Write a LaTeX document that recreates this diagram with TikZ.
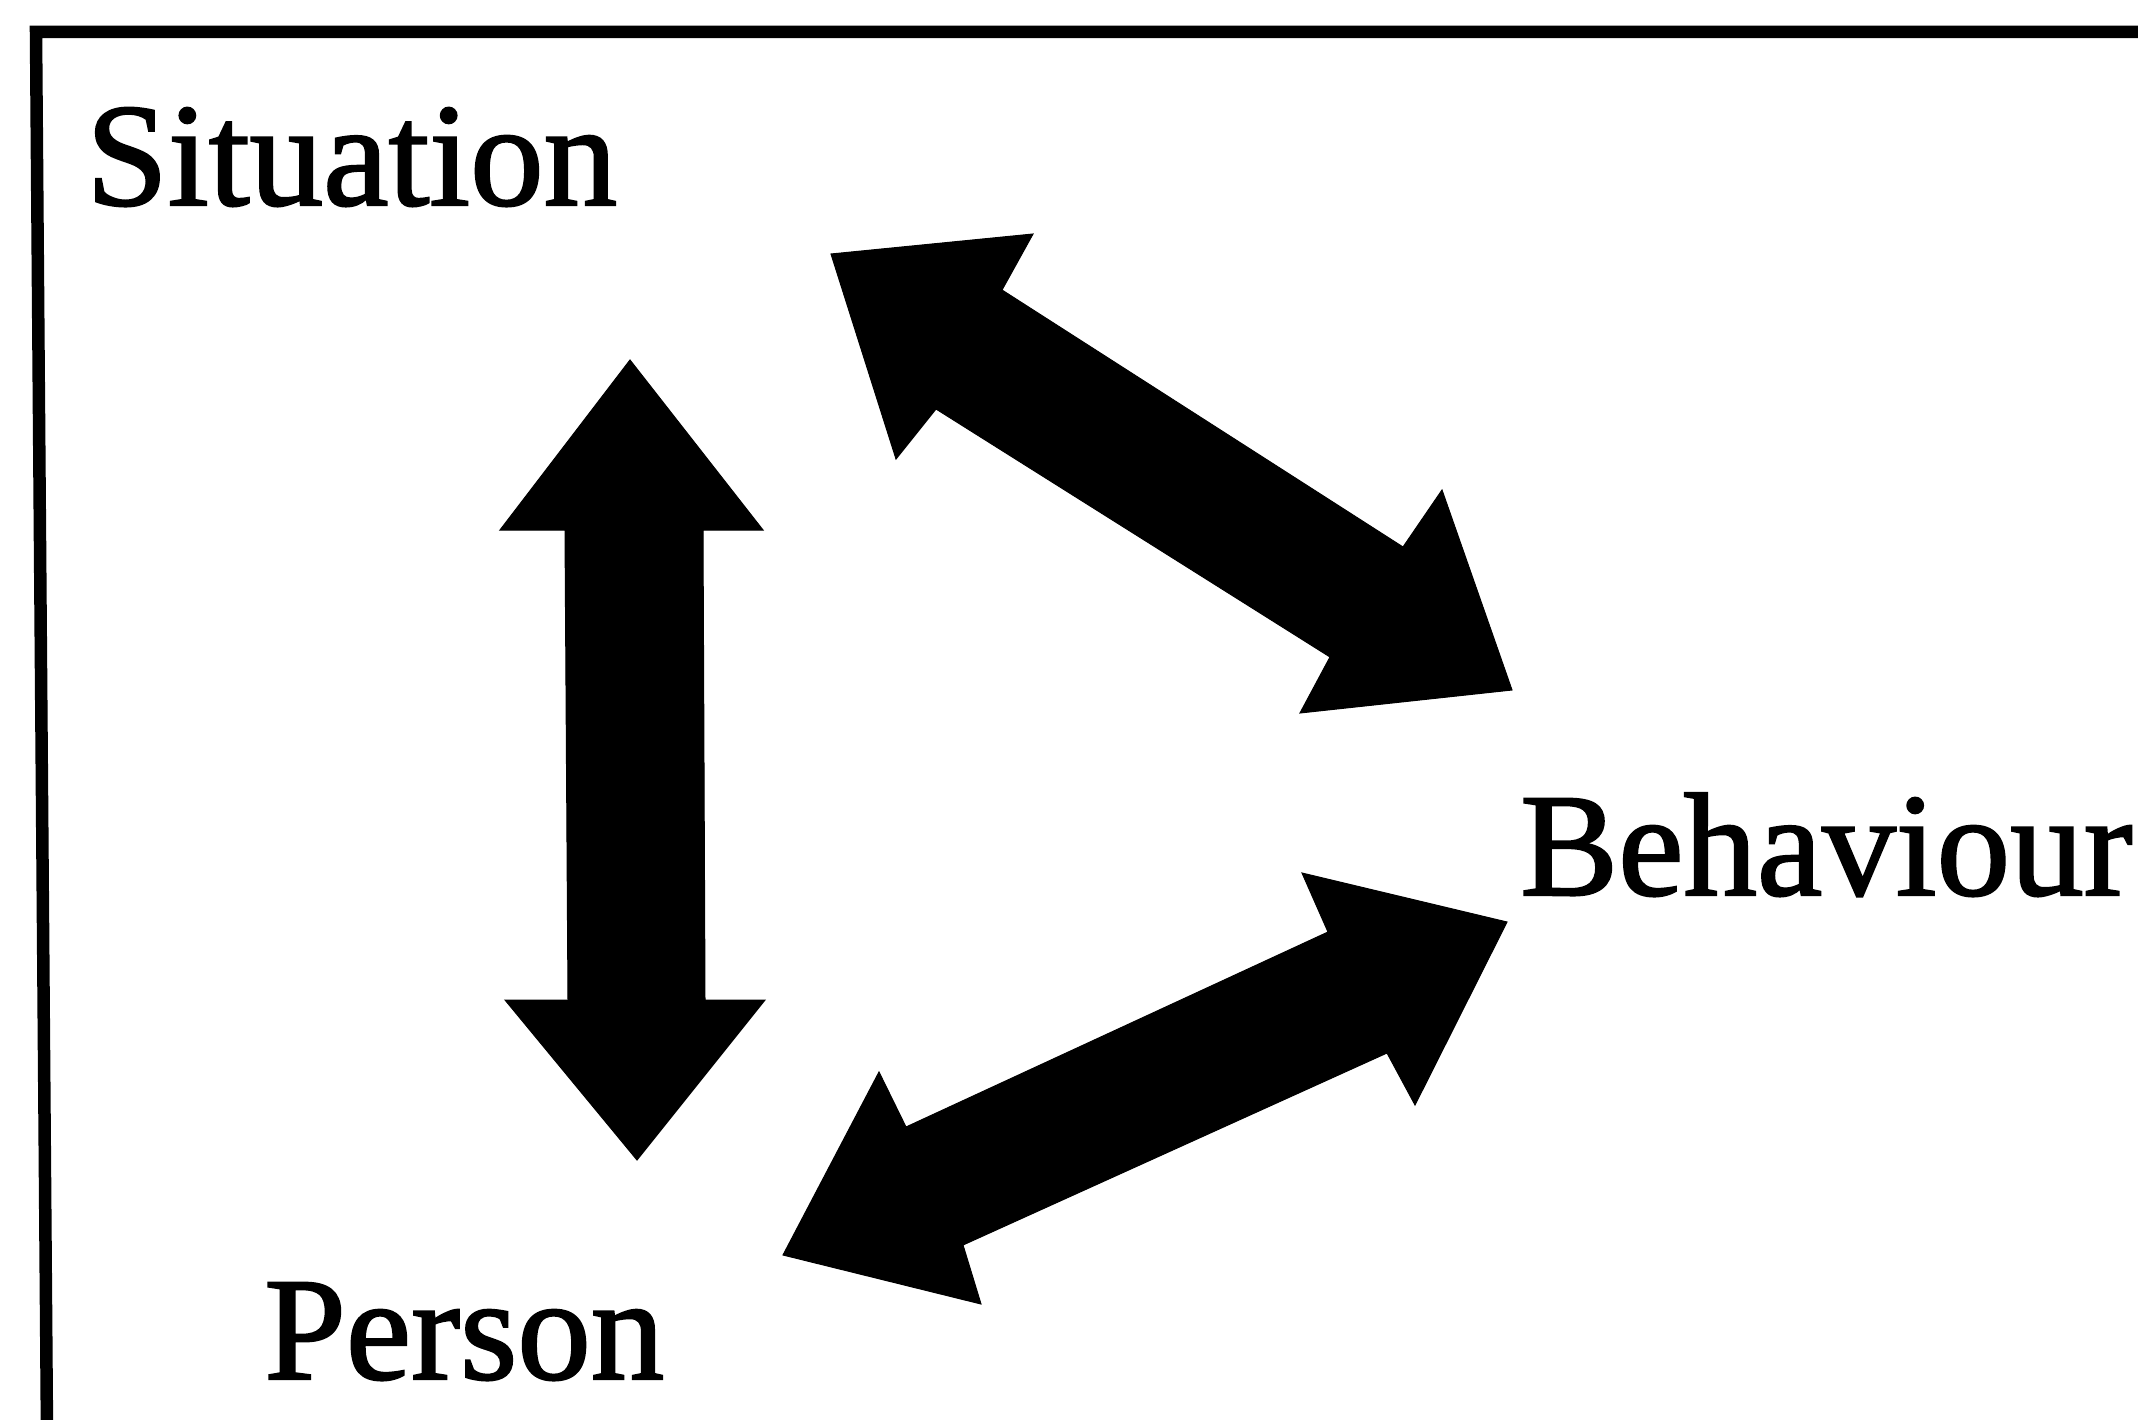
\documentclass[tikz,border=0pt]{standalone}
\usepackage{fontspec}
\setmainfont{Liberation Serif}
\newfontfamily\heavyserif{Liberation Serif}[FakeBold=1.5]
\begin{document}
\begin{tikzpicture}[x=1pt,y=-1pt,
  label/.style={anchor=base west,inner sep=0pt,font=\heavyserif\fontsize{147}{170}\selectfont},
  blockarrow/.style={fill=black,draw=black,line width=1pt,line join=miter},
  frameline/.style={draw=black,line width=12.5pt,line join=miter}]
  \useasboundingbox (0,0) rectangle (2138,1420);
  \fill[white] (0,0) rectangle (2138,1420);

  % open frame: top edge and left edge only
  \draw[frameline] (2150,32) -- (36,32) -- (47,1432);

  % labels
  \node[label] (sit) at (86,205)   {Situation};
  \node[label] (beh) at (1520,895) {Behaviour};
  \node[label] (per) at (264,1379) {Person};

  % tips of the three double-headed block arrows
  \coordinate (sp1) at (630,360);   \coordinate (sp2) at (637,1160);
  \coordinate (sb1) at (831,254);   \coordinate (sb2) at (1512,690);
  \coordinate (pb1) at (1507,922);  \coordinate (pb2) at (783,1255);

  % Situation <-> Person
  \filldraw[blockarrow] (sp1) -- (763,530) -- (703,530) -- (705,1000)
    -- (765,1000) -- (sp2) -- (505,1000) -- (568,1000) -- (565,530)
    -- (500,530) -- cycle;

  % Situation <-> Behaviour
  \filldraw[blockarrow] (sb1) -- (1033,234) -- (1002,290) -- (1403,547)
    -- (1442,490) -- (sb2) -- (1300,713) -- (1330,657) -- (936,409)
    -- (896,459) -- cycle;

  % Person <-> Behaviour
  \filldraw[blockarrow] (pb1) -- (1415,1105) -- (1387,1053) -- (963,1245)
    -- (981,1304) -- (pb2) -- (879,1072) -- (906,1127) -- (1328,932)
    -- (1302,873) -- cycle;
\end{tikzpicture}
\end{document}
